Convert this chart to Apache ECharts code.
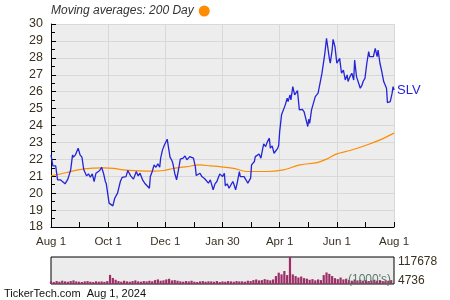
<!DOCTYPE html>
<html><head><meta charset="utf-8">
<script src="https://cdn.jsdelivr.net/npm/echarts@6/dist/echarts.min.js"></script>
<style>html,body{margin:0;padding:0;background:#fff}#c{width:450px;height:300px}</style>
</head><body><div id="c"></div>
<script>
// x axis: days since Aug 1, 2023
const xTickDays = [0, 61, 122, 183, 244, 305, 366];
const xTickLabels = ['Aug 1', 'Oct 1', 'Dec 1', 'Jan 30', 'Apr 1', 'Jun 1', 'Aug 1'];

const slvDays = [0,2,5,7,10,15,18,21,23,24,26,29,31,33,35,38,40,42,44,46,48,49,52,54,56,58,59,62,64,66,68,71,73,74,76,78,80,82,85,88,90,91,93,95,97,98,100,102,105,106,108,110,112,114,116,117,119,121,122,124,125,127,129,130,132,134,136,138,139,141,143,145,147,148,150,152,154,155,157,159,161,163,164,166,168,170,171,173,175,177,179,180,183,185,186,188,190,192,194,195,197,199,201,202,204,206,208,210,212,213,214,216,217,218,220,222,224,226,227,229,231,233,234,236,238,240,242,243,244,246,248,250,252,253,255,256,258,260,261,263,265,266,268,270,272,274,275,276,278,280,282,284,285,287,289,291,292,294,295,297,298,300,301,303,305,307,308,310,312,314,316,317,319,321,323,324,326,328,330,332,333,335,337,339,340,342,344,346,348,349,351,353,355,356,358,359,362,364,365,366];
const slv = [22.26,21.61,21.61,20.79,20.79,20.55,20.83,21.38,22.26,22.13,22.26,22.66,22.26,22.13,21.38,21.02,21.14,20.94,21.14,20.69,21.18,21.28,21.34,21.53,21.18,20.69,20.55,19.41,19.41,19.25,19.70,20.00,19.96,20.69,20.94,20.89,20.98,21.34,21.02,20.83,20.89,21.28,21.02,21.18,21.14,20.75,20.59,20.55,20.29,20.98,21.28,21.67,21.53,21.73,21.53,22.07,22.56,22.85,22.95,23.19,23.25,22.13,21.93,21.77,21.18,20.79,21.38,22.01,21.93,22.07,22.20,21.97,22.07,22.16,22.20,22.07,21.57,21.04,21.08,21.18,20.98,21.02,20.85,20.79,20.59,20.79,20.59,20.20,20.55,20.69,20.98,21.14,20.98,21.18,20.43,20.55,20.29,20.39,20.69,20.55,20.20,20.69,21.28,20.98,20.89,20.98,20.79,20.59,20.49,20.89,21.67,21.61,21.87,22.16,22.07,22.32,22.07,22.66,22.91,22.75,23.05,23.25,22.66,22.80,22.36,22.40,22.66,22.85,23.64,24.63,24.72,25.22,25.61,25.41,25.81,25.51,26.30,25.81,25.75,26.06,24.92,24.88,24.96,24.82,24.72,23.94,24.37,24.13,24.92,24.82,25.71,25.81,25.91,25.96,27.05,27.09,28.17,29.15,28.76,27.97,27.68,28.46,29.09,28.66,27.68,27.78,27.97,27.09,27.28,26.69,26.99,26.60,26.89,27.09,26.69,27.87,26.89,26.79,26.20,26.40,26.60,26.79,27.68,28.37,28.07,28.07,28.07,28.56,28.07,28.46,27.68,27.19,26.60,26.60,26.20,25.35,25.41,25.91,26.30,26.10];

const maDays = [0,17,29,42,56,67,77,95,109,120,131,145,159,170,180,195,209,230,248,266,284,294,305,319,337,351,366];
const ma200 = [21.02,21.22,21.38,21.47,21.49,21.47,21.38,21.32,21.30,21.34,21.47,21.57,21.67,21.61,21.57,21.47,21.28,21.28,21.38,21.67,21.81,22.01,22.32,22.52,22.85,23.15,23.55];

// volume (1000's), one bar per 3 days starting Aug 1
const volume = [15600,12900,17000,14300,18400,15600,14300,17000,19700,15600,14300,
  13000,15600,17000,14300,12900,16000,14300,15600,13500,17000,
  42800,30000,22400,
  17000,14300,18400,15600,14300,16900,19700,15600,14300,17000,15600,18400,16000,
  21000,24000,18400,20000,23800,26500,19700,21000,18400,
  16000,14300,17000,15600,18400,14300,13000,15600,17000,14300,16000,15600,14300,17000,13000,15600,14300,16900,15600,
  14300,17000,15600,16000,14300,18400,17000,
  21000,23800,19700,21000,25100,22400,20000,23800,
  38000,52000,45000,59000,42000,
  117678,
  45000,38000,31900,36000,29200,27000,
  22400,25100,20000,23800,21000,
  42000,53000,47000,38000,
  29200,25100,31900,23800,27000,
  21000,18400,23800,19700,22400,18400,21000,17000,19700,22400,18400,21000,17000,19700,18400,21000];
const volTicks = [4736, 117678];

const FONT = 'Liberation Sans, Arial, sans-serif';
const TXT = '#3a3020';

const chart = echarts.init(document.getElementById('c'), null, {renderer: 'canvas'});
chart.setOption({
  animation: false,
  backgroundColor: '#fff',
  textStyle: {fontFamily: FONT},
  legend: {
    left: 46, top: 0, align: 'right', icon: 'circle', itemWidth: 11, itemHeight: 11,
    textStyle: {fontStyle: 'italic', fontSize: 12, color: '#333', fontFamily: FONT},
    data: ['Moving averages: 200 Day']
  },
  grid: [
    {left: 51, top: 24, width: 343, height: 203, show: true, backgroundColor: '#ededed', borderWidth: 0},
    {left: 51, top: 257, width: 343, height: 27, show: true, backgroundColor: '#ececec', borderWidth: 1, borderColor: '#000'}
  ],
  xAxis: [
    {
      type: 'value', gridIndex: 0, min: 0, max: 366, interval: 61,
      axisLine: {show: true, lineStyle: {color: '#000', width: 1}},
      axisTick: {show: true, inside: true, length: 5, lineStyle: {color: '#000'}},
      minorTick: {show: true, splitNumber: 2, length: 5, lineStyle: {color: '#000'}},
      splitLine: {show: true, lineStyle: {color: '#d8d8d8', width: 1}},
      axisLabel: {
        margin: 9, fontSize: 11.5, color: TXT, fontFamily: FONT,
        formatter: v => { const i = xTickDays.indexOf(Math.round(v)); return i >= 0 ? xTickLabels[i] : ''; }
      }
    },
    {
      type: 'value', gridIndex: 1, min: 0, max: 366,
      axisLine: {show: false}, axisTick: {show: false}, axisLabel: {show: false}, splitLine: {show: false}
    }
  ],
  yAxis: [
    {
      type: 'value', gridIndex: 0, min: 18, max: 30, interval: 1,
      axisLine: {show: true, lineStyle: {color: '#000', width: 1}},
      axisTick: {show: true, inside: true, length: 5, lineStyle: {color: '#000'}},
      minorTick: {show: true, splitNumber: 2, length: 4, lineStyle: {color: '#000'}},
      splitLine: {show: true, lineStyle: {color: '#d8d8d8', width: 1}},
      axisLabel: {margin: 8, fontSize: 12.5, color: TXT, fontFamily: FONT}
    },
    {
      type: 'value', gridIndex: 1, min: volTicks[0], max: volTicks[1], position: 'right',
      axisLine: {show: false}, axisTick: {show: false}, splitLine: {show: false},
      axisLabel: {
        show: true, margin: 4, fontSize: 12, color: TXT, fontFamily: FONT,
        customValues: volTicks,
        formatter: v => v === volTicks[1] ? '{t|' + v + '}' : '{b|' + v + '}',
        rich: {
          t: {fontSize: 12, color: TXT, fontFamily: FONT, padding: [9, 0, 0, 0]},
          b: {fontSize: 12, color: TXT, fontFamily: FONT, padding: [0, 0, 6, 0]}
        }
      }
    }
  ],
  series: [
    {
      name: 'SLV', type: 'line', xAxisIndex: 0, yAxisIndex: 0,
      data: slvDays.map((d, i) => [d, slv[i]]),
      showSymbol: false, clip: false,
      lineStyle: {color: '#2424d8', width: 1.3},
      itemStyle: {color: '#2424d8'},
      endLabel: {show: true, formatter: 'SLV', color: '#2424d8', fontSize: 13, fontFamily: FONT, distance: 3},
      z: 3
    },
    {
      name: 'Moving averages: 200 Day', type: 'line', xAxisIndex: 0, yAxisIndex: 0,
      data: maDays.map((d, i) => [d, ma200[i]]),
      showSymbol: false, smooth: 0.3,
      lineStyle: {color: '#ff8c00', width: 1.2},
      itemStyle: {color: '#ff8c00'},
      z: 2
    },
    {
      name: 'Volume', type: 'bar', xAxisIndex: 1, yAxisIndex: 1,
      data: volume.map((v, i) => [i * 3, v]),
      barWidth: 2.2,
      itemStyle: {color: '#9b2f66'},
      z: 2
    }
  ],
  graphic: [
    {type: 'text', left: 348, top: 274, z: 10, style: {text: "(1000's)", font: '12px ' + FONT, fill: '#5a7a68'}},
    {type: 'text', left: 4, top: 288, z: 10, style: {text: 'TickerTech.com  Aug 1, 2024', font: '11px ' + FONT, fill: '#111'}}
  ]
});
</script>
</body></html>
